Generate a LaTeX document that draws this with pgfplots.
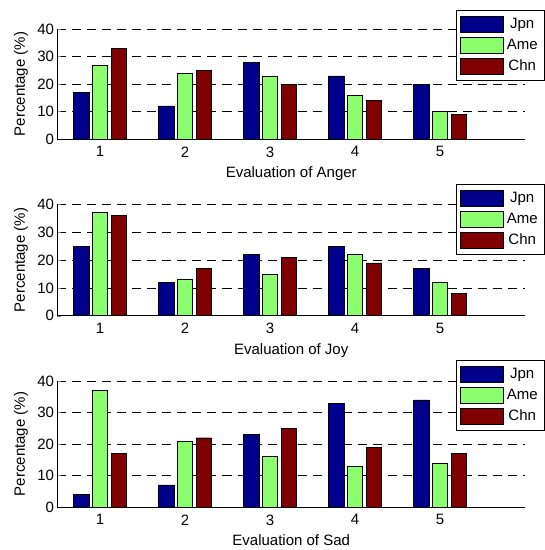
\documentclass[border=0pt]{standalone}
\usepackage{pgfplots}
\pgfplotsset{compat=1.18}
\usepackage{fontspec}
\setmainfont{Liberation Sans}
\definecolor{cjpn}{RGB}{0,0,140}
\definecolor{came}{RGB}{140,255,110}
\definecolor{cchn}{RGB}{128,0,0}
\pgfplotsset{emo/.style={
  scale only axis, width=467.5pt, anchor=south west,
  xmin=0.5, xmax=6, ymin=0, ymax=40,
  axis x line=bottom, axis y line=left,
  axis line style={-, line width=0.8pt},
  xtick={1,2,3,4,5}, ytick={0,10,20,30,40},
  tick align=inside, major tick length=4pt, xtick style={draw=none},
  ymajorgrids, grid style={black, dash pattern=on 9pt off 6pt, line width=0.6pt},
  ybar, bar width=0.18,
  tick label style={font=\fontsize{15}{17}\selectfont},
  label style={font=\fontsize{15}{17}\selectfont},
  xlabel style={yshift=-3pt},
  ylabel={Percentage (\%)},
  ylabel style={at={(axis description cs:-0.078,0.5)}, anchor=center},
  legend style={font=\fontsize{15}{17}\selectfont, anchor=north east, draw=black,
    line width=0.8pt, row sep=4.5pt, inner xsep=4pt, inner ysep=5.5pt,
    nodes={inner xsep=3pt, inner ysep=0pt}},
  legend image code/.code={\draw[#1, line width=0.5pt] (0pt,-8pt) rectangle (43pt,8pt);},
  /pgf/number format/assume math mode=true,
}}
\begin{document}
\begin{tikzpicture}
\useasboundingbox (0,0) rectangle (545pt,550pt);
% Anger
\begin{axis}[emo, at={(57.5pt,411pt)}, height=110pt,
  xlabel={Evaluation of Anger},
  legend style={at={(1.0428,1.1727)}}]
\addplot[fill=cjpn, draw=black, bar shift=-0.22] coordinates {(1,17) (2,12) (3,28) (4,23) (5,20)};
\addplot[fill=came, draw=black, bar shift=0] coordinates {(1,27) (2,24) (3,23) (4,16) (5,10)};
\addplot[fill=cchn, draw=black, bar shift=0.22] coordinates {(1,33) (2,25) (3,20) (4,14) (5,9)};
\legend{Jpn,Ame,Chn}
\end{axis}
% Joy
\begin{axis}[emo, at={(57.5pt,234.3pt)}, height=111.4pt,
  xlabel={Evaluation of Joy},
  legend style={at={(1.0428,1.182)}}]
\addplot[fill=cjpn, draw=black, bar shift=-0.22] coordinates {(1,25) (2,12) (3,22) (4,25) (5,17)};
\addplot[fill=came, draw=black, bar shift=0] coordinates {(1,37) (2,13) (3,15) (4,22) (5,12)};
\addplot[fill=cchn, draw=black, bar shift=0.22] coordinates {(1,36) (2,17) (3,21) (4,19) (5,8)};
\legend{Jpn,Ame,Chn}
\end{axis}
% Sad
\begin{axis}[emo, at={(57.5pt,43pt)}, height=126pt,
  xlabel={Evaluation of Sad},
  legend style={at={(1.0428,1.1667)}}]
\addplot[fill=cjpn, draw=black, bar shift=-0.22] coordinates {(1,4) (2,7) (3,23) (4,33) (5,34)};
\addplot[fill=came, draw=black, bar shift=0] coordinates {(1,37) (2,21) (3,16) (4,13) (5,14)};
\addplot[fill=cchn, draw=black, bar shift=0.22] coordinates {(1,17) (2,22) (3,25) (4,19) (5,17)};
\legend{Jpn,Ame,Chn}
\end{axis}
\end{tikzpicture}
\end{document}
